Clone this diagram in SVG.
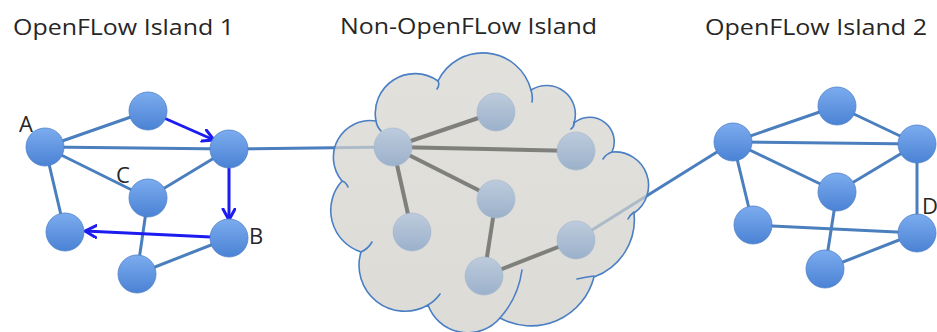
<svg xmlns="http://www.w3.org/2000/svg" width="937" height="332" viewBox="0 0 937 332">
  <defs>
    <linearGradient id="gBlue" x1="0" y1="0" x2="0" y2="1">
      <stop offset="0" stop-color="#7cacef"/>
      <stop offset="1" stop-color="#4a82d4"/>
    </linearGradient>
    <linearGradient id="gPale" x1="0" y1="0" x2="0" y2="1">
      <stop offset="0" stop-color="#bdcbdc"/>
      <stop offset="1" stop-color="#9bb1cb"/>
    </linearGradient>
    <linearGradient id="gCloud" x1="0" y1="0" x2="0" y2="1">
      <stop offset="0" stop-color="#d6d5cf"/>
      <stop offset="1" stop-color="#cfcec8"/>
    </linearGradient>
    <marker id="arrow" markerUnits="userSpaceOnUse" markerWidth="16" markerHeight="16" refX="12" refY="7" orient="auto">
      <path d="M1,1 L12,7 L1,13" fill="none" stroke="#1c1cf0" stroke-width="3" stroke-linecap="round" stroke-linejoin="round"/>
    </marker>
  </defs>
  <style>
    .title { font-family: "Open Sans", "Liberation Sans", sans-serif; font-size: 22px; fill: #262626; }
    .lbl { font-family: "Open Sans", "Liberation Sans", sans-serif; font-size: 22px; fill: #262626; }
    .edge { stroke: #4a7ebd; stroke-width: 3; fill: none; }
    .gedge { stroke: #7f7f7c; stroke-width: 4; fill: none; }
    .flow { stroke: #1c1cf0; stroke-width: 3; fill: none; marker-end: url(#arrow); }
    .node { fill: url(#gBlue); stroke: #4f80c8; stroke-width: 0.8; }
    .pnode { fill: url(#gPale); stroke: #a3b6cd; stroke-width: 0.6; }
    .cloud { fill: url(#gCloud); fill-opacity: 0.72; stroke: #4a7fc4; stroke-width: 1.6; }
    .hook { fill: none; stroke: #4a7fc4; stroke-width: 1.6; stroke-linecap: round; }
  </style>

  <!-- titles -->
  <text class="title" x="13" y="35" textLength="221" lengthAdjust="spacingAndGlyphs">OpenFLow Island 1</text>
  <text class="title" x="340" y="34" textLength="257" lengthAdjust="spacingAndGlyphs">Non-OpenFLow Island</text>
  <text class="title" x="705" y="35" textLength="222" lengthAdjust="spacingAndGlyphs">OpenFLow Island 2</text>

  <!-- inter-island links (drawn beneath the cloud) -->
  <g id="links">
    <line class="edge" x1="229" y1="149" x2="393" y2="147"/>
    <line class="edge" x1="576" y1="240" x2="733" y2="142"/>
  </g>

  <!-- cloud -->
  <g id="cloud">
    <path class="cloud" d="M342,181 A36.8,36.8 0 0 1 376,121 A39.7,39.7 0 0 1 438,81 A49.8,49.8 0 0 1 531,90 A28.8,28.8 0 0 1 574,123 A24.5,24.5 0 0 1 612,152 A33.5,33.5 0 0 1 634,213 A61,61 0 0 1 594,277 A65,65 0 0 1 500,318 A42.4,42.4 0 0 1 428,305 A45.9,45.9 0 0 1 361,252 A43.8,43.8 0 0 1 342,181 Z"/>
    <path class="hook" d="M342,181 Q346,182 348,187 M376,121 Q377,127 381,131 M438,81 Q440,85 437,89 M531,90 Q533,96 532,102 M574,122 Q575,126 571,129 M612,152 Q606,154 603,159 M634,212 Q630,215 628,219 M594,276 Q586,277 577,279 M500,318 Q518,298 522,270 M428,305 Q435,301 440,294 M361,252 Q368,249 372,242"/>
  </g>

  <g id="connectors">
    <!-- island 1 -->
    <line class="edge" x1="45" y1="147" x2="148" y2="111"/>
    <line class="edge" x1="45" y1="147" x2="229" y2="149"/>
    <line class="edge" x1="45" y1="147" x2="148" y2="198"/>
    <line class="edge" x1="45" y1="147" x2="65" y2="232"/>
    <line class="edge" x1="148" y1="198" x2="229" y2="149"/>
    <line class="edge" x1="148" y1="198" x2="137" y2="274"/>
    <line class="edge" x1="137" y1="274" x2="229" y2="238"/>
    <line class="flow" x1="164" y1="118" x2="214" y2="140"/>
    <line class="flow" x1="229" y1="166" x2="229" y2="220"/>
    <line class="flow" x1="211" y1="237" x2="85" y2="231"/>
    <!-- non-OpenFlow island -->
    <line class="gedge" x1="393" y1="147" x2="496" y2="112"/>
    <line class="gedge" x1="393" y1="147" x2="576" y2="151"/>
    <line class="gedge" x1="393" y1="147" x2="496" y2="199"/>
    <line class="gedge" x1="393" y1="147" x2="412" y2="232"/>
    <line class="gedge" x1="496" y1="199" x2="484" y2="276"/>
    <line class="gedge" x1="484" y1="276" x2="576" y2="240"/>
    <!-- island 2 -->
    <line class="edge" x1="733" y1="142" x2="837" y2="106"/>
    <line class="edge" x1="733" y1="142" x2="917" y2="144"/>
    <line class="edge" x1="733" y1="142" x2="837" y2="192"/>
    <line class="edge" x1="733" y1="142" x2="753" y2="225"/>
    <line class="edge" x1="837" y1="106" x2="917" y2="144"/>
    <line class="edge" x1="917" y1="144" x2="837" y2="192"/>
    <line class="edge" x1="917" y1="144" x2="917" y2="233"/>
    <line class="edge" x1="837" y1="192" x2="825" y2="269"/>
    <line class="edge" x1="753" y1="225" x2="917" y2="233"/>
    <line class="edge" x1="825" y1="269" x2="917" y2="233"/>
  </g>

  <!-- island 1 nodes -->
  <g id="n1-A"><circle class="node" cx="45" cy="147" r="19"/></g>
  <g id="n1-top"><circle class="node" cx="148" cy="111" r="19"/></g>
  <g id="n1-right"><circle class="node" cx="229" cy="149" r="19"/></g>
  <g id="n1-C"><circle class="node" cx="148" cy="198" r="19"/></g>
  <g id="n1-left"><circle class="node" cx="65" cy="232" r="19"/></g>
  <g id="n1-B"><circle class="node" cx="229" cy="238" r="19"/></g>
  <g id="n1-bottom"><circle class="node" cx="137" cy="274" r="19"/></g>

  <!-- non-OpenFlow island nodes -->
  <g id="n2-hub"><circle class="pnode" cx="393" cy="147" r="19"/></g>
  <g id="n2-top"><circle class="pnode" cx="496" cy="112" r="19"/></g>
  <g id="n2-right"><circle class="pnode" cx="576" cy="151" r="19"/></g>
  <g id="n2-mid"><circle class="pnode" cx="496" cy="199" r="19"/></g>
  <g id="n2-left"><circle class="pnode" cx="412" cy="232" r="19"/></g>
  <g id="n2-bottom"><circle class="pnode" cx="484" cy="276" r="19"/></g>
  <g id="n2-edge"><circle class="pnode" cx="576" cy="240" r="19"/></g>

  <!-- island 2 nodes -->
  <g id="n3-hub"><circle class="node" cx="733" cy="142" r="19"/></g>
  <g id="n3-top"><circle class="node" cx="837" cy="106" r="19"/></g>
  <g id="n3-right"><circle class="node" cx="917" cy="144" r="19"/></g>
  <g id="n3-mid"><circle class="node" cx="837" cy="192" r="19"/></g>
  <g id="n3-left"><circle class="node" cx="753" cy="225" r="19"/></g>
  <g id="n3-D"><circle class="node" cx="917" cy="233" r="19"/></g>
  <g id="n3-bottom"><circle class="node" cx="825" cy="269" r="19"/></g>

  <!-- node labels -->
  <text class="lbl" x="19" y="132">A</text>
  <text class="lbl" x="116" y="183">C</text>
  <text class="lbl" x="249" y="244">B</text>
  <text class="lbl" x="922" y="214">D</text>
</svg>
